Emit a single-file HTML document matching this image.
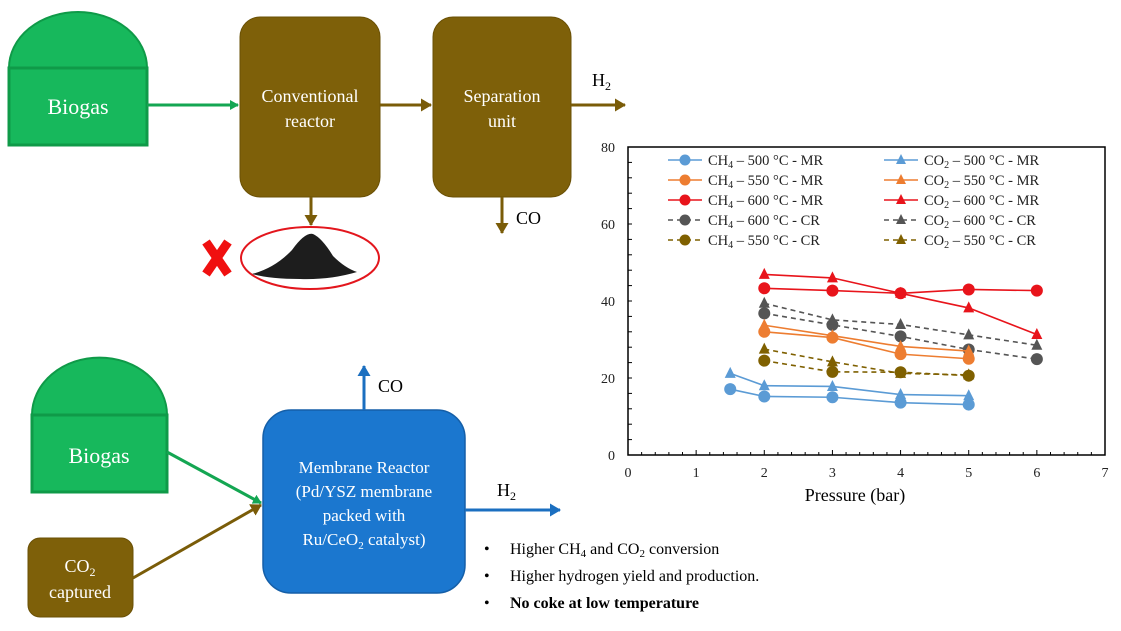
<!DOCTYPE html>
<html><head><meta charset="utf-8"><style>
body{margin:0;background:#fff;}
svg{display:block;font-family:"Liberation Serif",serif;}
</style></head><body>
<svg id="root" width="1121" height="631" viewBox="0 0 1121 631" xmlns="http://www.w3.org/2000/svg">
<defs>
<marker id="ag" markerWidth="9" markerHeight="10" refX="8" refY="5" orient="auto" markerUnits="userSpaceOnUse"><path d="M0,0 L9,5 L0,10 Z" fill="#14a652"/></marker>
<marker id="ab" markerWidth="11" markerHeight="13" refX="10" refY="6.5" orient="auto" markerUnits="userSpaceOnUse"><path d="M0,0 L11,6.5 L0,13 Z" fill="#7a5c08"/></marker>
<marker id="au" markerWidth="11" markerHeight="13" refX="10" refY="6.5" orient="auto" markerUnits="userSpaceOnUse"><path d="M0,0 L11,6.5 L0,13 Z" fill="#1b6fc0"/></marker>
</defs>

<g>
<path d="M9,68 A69,56 0 0 1 147,68 Z" fill="#17b85c" stroke="#0f9a48" stroke-width="2"/>
<rect x="9" y="68" width="138" height="77" fill="#17b85c" stroke="#0f9a48" stroke-width="3"/>
<text x="78" y="114" fill="#fff" font-size="22" text-anchor="middle">Biogas</text>
</g>
<line x1="147" y1="105" x2="238" y2="105" stroke="#14a652" stroke-width="3" marker-end="url(#ag)"/>
<g>
<rect x="240" y="17" width="140" height="180" rx="20" fill="#7e6009" stroke="#6a5005" stroke-width="1"/>
<text x="310" y="102" fill="#fff" font-size="18" text-anchor="middle">Conventional</text>
<text x="310" y="127" fill="#fff" font-size="18" text-anchor="middle">reactor</text>
</g>
<line x1="380" y1="105" x2="431" y2="105" stroke="#7a5c08" stroke-width="3" marker-end="url(#ab)"/>
<g>
<rect x="433" y="17" width="138" height="180" rx="20" fill="#7e6009" stroke="#6a5005" stroke-width="1"/>
<text x="502" y="102" fill="#fff" font-size="18" text-anchor="middle">Separation</text>
<text x="502" y="127" fill="#fff" font-size="18" text-anchor="middle">unit</text>
</g>
<line x1="571" y1="105" x2="625" y2="105" stroke="#7a5c08" stroke-width="3" marker-end="url(#ab)"/>
<text x="592" y="86" font-size="18">H<tspan font-size="12" dy="4">2</tspan></text>
<line x1="502" y1="197" x2="502" y2="233" stroke="#7a5c08" stroke-width="3" marker-end="url(#ab)"/>
<text x="516" y="224" font-size="18">CO</text>
<line x1="311" y1="197" x2="311" y2="225" stroke="#7a5c08" stroke-width="3" marker-end="url(#ab)"/>
<g>
<path d="M252,274 Q275,268 292,250 Q305,232 313,234 Q322,238 333,256 Q345,268 357,272 Q330,280 300,279 Q270,279 252,274 Z" fill="#1d1d1d"/>
<ellipse cx="310" cy="258" rx="69" ry="31" fill="none" stroke="#e3161d" stroke-width="2"/>
</g>
<g>
<line x1="206" y1="242" x2="228" y2="274" stroke="#f01010" stroke-width="9"/>
<line x1="228" y1="242" x2="206" y2="274" stroke="#f01010" stroke-width="9"/>
</g>

<g>
<path d="M32,415 A67,57 0 0 1 167,415 Z" fill="#17b85c" stroke="#0f9a48" stroke-width="2"/>
<rect x="32" y="415" width="135" height="77" fill="#17b85c" stroke="#0f9a48" stroke-width="3"/>
<text x="99" y="463" fill="#fff" font-size="22" text-anchor="middle">Biogas</text>
</g>
<g>
<rect x="28" y="538" width="105" height="79" rx="12" fill="#7e6009" stroke="#6a5005"/>
<text x="80" y="572" fill="#fff" font-size="18" text-anchor="middle">CO<tspan font-size="12" dy="4">2</tspan></text>
<text x="80" y="598" fill="#fff" font-size="18" text-anchor="middle">captured</text>
</g>
<line x1="167" y1="452" x2="261" y2="503" stroke="#14a652" stroke-width="3" marker-end="url(#ag)"/>
<line x1="133" y1="578" x2="261" y2="505" stroke="#7a5c08" stroke-width="3" marker-end="url(#ab)"/>
<g>
<rect x="263" y="410" width="202" height="183" rx="28" fill="#1b77cf" stroke="#155fa8" stroke-width="1.5"/>
<text x="364" y="473" fill="#fff" font-size="17" text-anchor="middle">Membrane Reactor</text>
<text x="364" y="497" fill="#fff" font-size="17" text-anchor="middle">(Pd/YSZ membrane</text>
<text x="364" y="521" fill="#fff" font-size="17" text-anchor="middle">packed with</text>
<text x="364" y="545" fill="#fff" font-size="17" text-anchor="middle">Ru/CeO<tspan font-size="11" dy="4">2</tspan><tspan dy="-4"> catalyst)</tspan></text>
</g>
<line x1="364" y1="410" x2="364" y2="366" stroke="#1b6fc0" stroke-width="3" marker-end="url(#au)"/>
<text x="378" y="392" font-size="18">CO</text>
<line x1="465" y1="510" x2="560" y2="510" stroke="#1b6fc0" stroke-width="3" marker-end="url(#au)"/>
<text x="497" y="496" font-size="18">H<tspan font-size="12" dy="4">2</tspan></text>
<g font-size="16">
<text x="484" y="554">•</text><text x="510" y="554">Higher CH<tspan font-size="11" dy="3">4</tspan><tspan dy="-3"> and CO</tspan><tspan font-size="11" dy="3">2</tspan><tspan dy="-3"> conversion</tspan></text>
<text x="484" y="581">•</text><text x="510" y="581">Higher hydrogen yield and production.</text>
<text x="484" y="608">•</text><text x="510" y="608" font-weight="bold">No coke at low temperature</text>
</g>

<g id="chart"></g>
</svg>
<script>
const pressures1 = [1.5, 2, 3, 4, 5];
const pressures2 = [2, 3, 4, 5];
const pressures3 = [2, 3, 4, 5, 6];
const ch4_500_mr = [17.1, 15.2, 15.0, 13.6, 13.1];
const co2_500_mr = [21.2, 18.0, 17.8, 15.7, 15.4];
const ch4_550_mr = [32.0, 30.5, 26.2, 25.0];
const co2_550_mr = [33.7, 31.0, 28.2, 27.0];
const ch4_600_mr = [43.3, 42.7, 42.0, 43.0, 42.7];
const co2_600_mr = [46.9, 46.0, 42.0, 38.2, 31.3];
const ch4_600_cr = [36.8, 33.8, 30.8, 27.4, 24.9];
const co2_600_cr = [39.4, 35.1, 33.9, 31.2, 28.5];
const ch4_550_cr = [24.5, 21.6, 21.5, 20.6];
const co2_550_cr = [27.5, 24.2, 21.2, 20.8];
const xTicks = [0, 1, 2, 3, 4, 5, 6, 7];
const yTicks = [0, 20, 40, 60, 80];

const NS = "http://www.w3.org/2000/svg";
const g = document.getElementById('chart');
const X0 = 628, X1 = 1105, Y0 = 455, Y1 = 147;
const xs = v => X0 + (v - 0) / 7 * (X1 - X0);
const ys = v => Y0 - (v - 0) / 80 * (Y0 - Y1);
function mk(tag, attrs, parent) {
  const e = document.createElementNS(NS, tag);
  for (const k in attrs) e.setAttribute(k, attrs[k]);
  (parent || g).appendChild(e);
  return e;
}
const frame = mk('rect', {x: X0, y: Y1, width: X1 - X0, height: Y0 - Y1, fill: 'none', stroke: '#000', 'stroke-width': 1.5});


for (let v = 0; v <= 7.001; v += 0.2) {
  const major = Math.abs(v - Math.round(v)) < 1e-6;
  mk('line', {x1: xs(v), x2: xs(v), y1: Y0, y2: Y0 - (major ? 5 : 3), stroke: '#000', 'stroke-width': 1});
}
for (let v = 0; v <= 80.001; v += 4) {
  mk('line', {x1: X0, x2: X0 + 4, y1: ys(v), y2: ys(v), stroke: '#000', 'stroke-width': 1});
}
xTicks.forEach(t => {
  const e = mk('text', {x: xs(t), y: Y0 + 22, 'font-size': 14, 'text-anchor': 'middle', fill: '#222'});
  e.textContent = t;
  
  
});
yTicks.forEach(t => {
  const e = mk('text', {x: X0 - 13, y: ys(t) + 5, 'font-size': 14, 'text-anchor': 'end', fill: '#222'});
  e.textContent = t;
  
  
});
const xt = mk('text', {x: 855, y: 501, 'font-size': 18, 'text-anchor': 'middle'});
xt.textContent = 'Pressure (bar)';



const series = [
  {gas: 'CH', sub: '4', lab: ' \u2013 500 \u00B0C - MR', xs: pressures1, ys: ch4_500_mr, c: '#5b9bd5', m: 'c', d: false, col: 0, row: 0},
  {gas: 'CH', sub: '4', lab: ' \u2013 550 \u00B0C - MR', xs: pressures2, ys: ch4_550_mr, c: '#ed7d31', m: 'c', d: false, col: 0, row: 1},
  {gas: 'CH', sub: '4', lab: ' \u2013 600 \u00B0C - MR', xs: pressures3, ys: ch4_600_mr, c: '#e8141b', m: 'c', d: false, col: 0, row: 2},
  {gas: 'CH', sub: '4', lab: ' \u2013 600 \u00B0C - CR', xs: pressures3, ys: ch4_600_cr, c: '#555555', m: 'c', d: true, col: 0, row: 3},
  {gas: 'CH', sub: '4', lab: ' \u2013 550 \u00B0C - CR', xs: pressures2, ys: ch4_550_cr, c: '#7f6000', m: 'c', d: true, col: 0, row: 4},
  {gas: 'CO', sub: '2', lab: ' \u2013 500 \u00B0C - MR', xs: pressures1, ys: co2_500_mr, c: '#5b9bd5', m: 't', d: false, col: 1, row: 0},
  {gas: 'CO', sub: '2', lab: ' \u2013 550 \u00B0C - MR', xs: pressures2, ys: co2_550_mr, c: '#ed7d31', m: 't', d: false, col: 1, row: 1},
  {gas: 'CO', sub: '2', lab: ' \u2013 600 \u00B0C - MR', xs: pressures3, ys: co2_600_mr, c: '#e8141b', m: 't', d: false, col: 1, row: 2},
  {gas: 'CO', sub: '2', lab: ' \u2013 600 \u00B0C - CR', xs: pressures3, ys: co2_600_cr, c: '#555555', m: 't', d: true, col: 1, row: 3},
  {gas: 'CO', sub: '2', lab: ' \u2013 550 \u00B0C - CR', xs: pressures2, ys: co2_550_cr, c: '#7f6000', m: 't', d: true, col: 1, row: 4}
];
function marker(type, cx, cy, c, r) {
  if (type === 'c') return mk('circle', {cx: cx, cy: cy, r: r, fill: c});
  return mk('path', {d: `M${cx},${cy - r - 1} L${cx + r},${cy + r - 1} L${cx - r},${cy + r - 1} Z`, fill: c});
}
series.forEach(s => {
  const pts = s.xs.map((x, i) => xs(x) + ',' + ys(s.ys[i])).join(' ');
  const line = mk('polyline', {points: pts, fill: 'none', stroke: s.c, 'stroke-width': 1.6, 'stroke-dasharray': s.d ? '5,4' : 'none'});
  
  
  s.xs.forEach((x, i) => {
    const p = marker(s.m, xs(x), ys(s.ys[i]), s.c, s.m === 'c' ? 6 : 5.5);
    
    
  });
  const lx = s.col === 0 ? 685 : 901;
  const ly = 160 + s.row * 20;
  const ll = mk('line', {x1: lx - 17, x2: lx + 17, y1: ly, y2: ly, stroke: s.c, 'stroke-width': 1.6, 'stroke-dasharray': s.d ? '5,4' : 'none'});
  
  
  const lm = marker(s.m, lx, ly, s.c, s.m === 'c' ? 5.5 : 5);
  
  
  const t = mk('text', {x: lx + 23, y: ly + 5, 'font-size': 14.5, fill: '#222'});
  
  
  t.appendChild(document.createTextNode(s.gas));
  const sb = mk('tspan', {'font-size': 10, dy: 3}, t);
  sb.textContent = s.sub;
  const rest = mk('tspan', {dy: -3}, t);
  rest.textContent = s.lab;
});
</script>
</body></html>
